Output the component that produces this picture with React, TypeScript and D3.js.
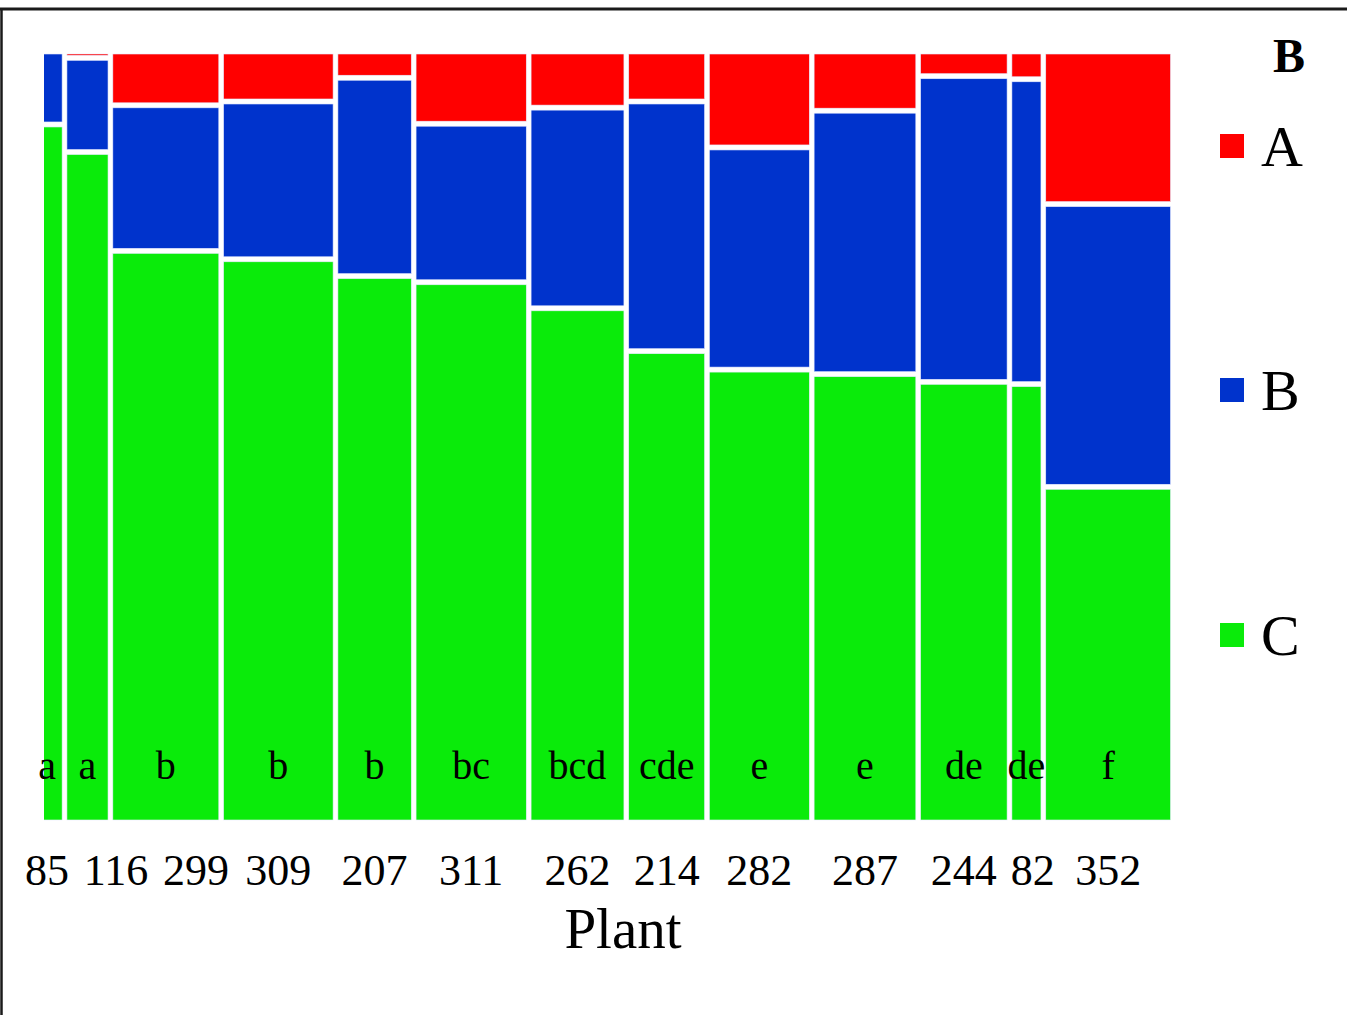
import React from "react";
import * as d3 from "d3";

// plant sample sizes (column widths) and their significance letters
const plants = ["85", "116", "299", "309", "207", "311", "262", "214", "282", "287", "244", "82", "352"];
const counts = [85, 116, 299, 309, 207, 311, 262, 214, 282, 287, 244, 82, 352];
const letters = ["a", "a", "b", "b", "b", "bc", "bcd", "cde", "e", "e", "de", "de", "f"];

// proportions of each level of B within a plant (top to bottom: A, B, C)
const levels = ["A", "B", "C"];
const propA = [0, 0.005, 0.067, 0.062, 0.031, 0.091, 0.07, 0.062, 0.122, 0.074, 0.029, 0.033, 0.196];
const propB = [0.092, 0.123, 0.19, 0.206, 0.259, 0.207, 0.262, 0.326, 0.29, 0.344, 0.399, 0.398, 0.369];
const propC = [0.908, 0.872, 0.743, 0.732, 0.71, 0.702, 0.668, 0.612, 0.588, 0.582, 0.572, 0.569, 0.435];

const colors = ["#ff0000", "#0033cc", "#0aeb0a"];
const FONT = "'Liberation Serif', 'Times New Roman', serif";

export default function App() {
  const width = 1347,
    height = 1015;
  const left = 32,
    right = 1170.5,
    top = 54,
    bottom = 820,
    gapX = 4.8,
    gapY = 5;

  const total = d3.sum(counts);
  const cum = d3.cumsum(counts);
  const x = d3
    .scaleLinear()
    .domain([0, total])
    .range([left, right - gapX * (counts.length - 1)]);
  const y = d3.scaleLinear().domain([0, 1]).range([bottom, top]);

  const props = [propA, propB, propC];

  const cols = counts.map((c, i) => {
    const x0 = x(cum[i] - c) + i * gapX;
    const x1 = x(cum[i]) + i * gapX;
    // stack from the top: A, B, C
    let upper = 1;
    const segs: { y0: number; y1: number; k: number }[] = [];
    props.forEach((p, k) => {
      const v = p[i];
      if (v <= 0) return;
      segs.push({ y0: upper, y1: upper - v, k });
      upper -= v;
    });
    const rects = segs.map((s, j) => {
      const yt = y(s.y0) + (j > 0 ? gapY / 2 : 0);
      const yb = j < segs.length - 1 ? y(s.y1) - gapY / 2 : bottom;
      return { x: x0, y: yt, w: x1 - x0, h: Math.max(0, yb - yt), k: s.k };
    });
    return { x0, x1, rects };
  });

  // count labels: centred under the column, pushed right when they would collide
  const numSize = 44;
  let prevRight = -Infinity;
  const numPos = cols.map((c, i) => {
    const w = plants[i].length * numSize * 0.5;
    let cx = (c.x0 + c.x1) / 2;
    if (cx - w / 2 < prevRight + 14) cx = prevRight + 14 + w / 2;
    prevRight = cx + w / 2;
    return cx;
  });

  const legendY = [146, 390, 635];

  return (
    <svg
      width={width}
      height={height}
      style={{ position: "absolute", left: 0, top: 0, background: "#fff" }}
      fontFamily={FONT}
    >
      <defs>
        <clipPath id="panel">
          <rect x={44} y={0} width={right - 44 + 2} height={height} />
        </clipPath>
      </defs>

      <line x1={0} x2={width} y1={9} y2={9} stroke="#1a1a1a" strokeWidth={3} />
      <line x1={1.5} x2={1.5} y1={9} y2={height} stroke="#1a1a1a" strokeWidth={2.5} />

      <g clipPath="url(#panel)">
        {cols.map((c, i) =>
          c.rects.map((r, j) => (
            <rect
              key={`${i}-${j}`}
              x={r.x}
              y={r.y}
              width={r.w}
              height={r.h}
              fill={colors[r.k]}
              stroke="#e6ecff"
              strokeWidth={0.6}
            />
          ))
        )}
      </g>

      {cols.map((c, i) => (
        <text
          key={`l${i}`}
          x={(c.x0 + c.x1) / 2}
          y={779}
          textAnchor="middle"
          fontSize={40}
          fill="#000"
        >
          {letters[i]}
        </text>
      ))}

      {plants.map((p, i) => (
        <text key={`n${i}`} x={numPos[i]} y={885} textAnchor="middle" fontSize={numSize} fill="#000">
          {p}
        </text>
      ))}

      <text x={623} y={948} textAnchor="middle" fontSize={57} fill="#000">
        Plant
      </text>

      <text x={1289} y={72} textAnchor="middle" fontSize={48} fontWeight="bold" fill="#000">
        B
      </text>
      {levels.map((lv, k) => (
        <g key={lv} transform={`translate(1220,${legendY[k]})`}>
          <rect x={0} y={-12} width={24} height={24} fill={colors[k]} />
          <text x={41} y={20} fontSize={58} fill="#000">
            {lv}
          </text>
        </g>
      ))}
    </svg>
  );
}
